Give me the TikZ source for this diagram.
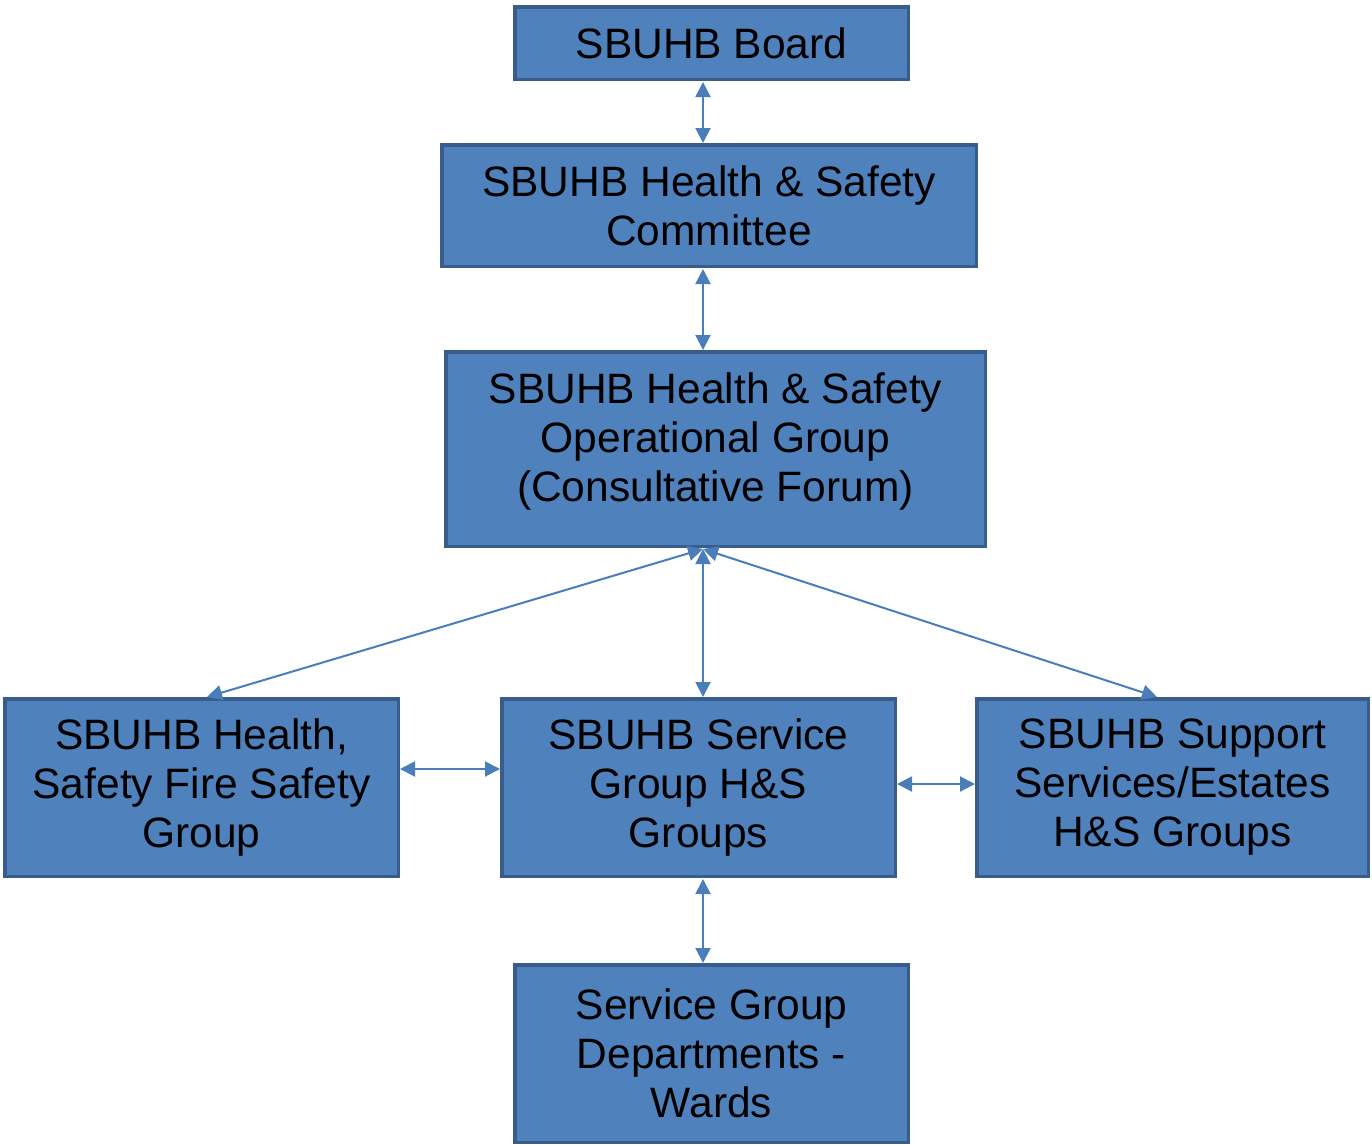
\documentclass[tikz,border=0pt]{standalone}
\usepackage{fontspec}
\setmainfont{Liberation Sans}
\usetikzlibrary{arrows.meta}
\definecolor{boxfill}{HTML}{4F81BD}
\definecolor{boxline}{HTML}{385D8A}
\definecolor{linkcol}{HTML}{4A7EBB}
\tikzset{
  orgbox/.style={draw=boxline, fill=boxfill, line width=3.5pt, inner sep=0pt,
    align=center, font=\fontsize{42.5}{49}\selectfont, text=black},
  link/.style={draw=linkcol, line width=2pt,
    {Triangle[length=15pt,width=15pt]}-{Triangle[length=15pt,width=15pt]}},
  txt/.style={align=center, font=\fontsize{42.5}{49}\selectfont, text=black, inner sep=0pt}
}
\begin{document}
\begin{tikzpicture}[x=1pt,y=-1pt]
\useasboundingbox (0,0) rectangle (1372,1144);
\node[orgbox, minimum width=393.5pt, minimum height=72.5pt] (board) at (711.5,43) {SBUHB Board};
\node[orgbox, minimum width=534.5pt, minimum height=121.5pt] (comm) at (709,205.5) {SBUHB Health \& Safety\\Committee};
\node[orgbox, minimum width=539.5pt, minimum height=194.5pt] (ops) at (715.5,449) {};
\node[txt] (opstxt) at (715.5,441) {SBUHB Health \& Safety\\Operational Group\\(Consultative Forum)};
\node[orgbox, minimum width=393.5pt, minimum height=177.5pt] (fire) at (201.5,787.5) {SBUHB Health,\\Safety Fire Safety\\Group};
\node[orgbox, minimum width=393.5pt, minimum height=177.5pt] (serv) at (698.5,787.5) {SBUHB Service\\Group H\&S\\Groups};
\node[orgbox, minimum width=391.5pt, minimum height=177.5pt] (supp) at (1172.5,787.5) {SBUHB Support\\Services/Estates\\H\&S Groups};
\node[orgbox, minimum width=393.5pt, minimum height=177.5pt] (wards) at (711.5,1053.5) {Service Group\\Departments -\\Wards};
\coordinate (boardB) at (703,82);
\coordinate (commT) at (703,143);
\coordinate (commB) at (703,269);
\coordinate (opsT) at (703,350);
\coordinate (opsB) at (703,549);
\coordinate (fireT) at (207,697);
\coordinate (servT) at (703,697);
\coordinate (suppT) at (1157,697);
\coordinate (fireR) at (400,769);
\coordinate (servL) at (500,769);
\coordinate (servR) at (897,784);
\coordinate (suppL) at (975,784);
\coordinate (servB) at (703,879);
\coordinate (wardsT) at (703,963);
\draw[link] (boardB) -- (commT);
\draw[link] (commB) -- (opsT);
\draw[link] (opsB) -- (fireT);
\draw[link] (opsB) -- (servT);
\draw[link] (opsB) -- (suppT);
\draw[link] (fireR) -- (servL);
\draw[link] (servR) -- (suppL);
\draw[link] (servB) -- (wardsT);
\end{tikzpicture}
\end{document}
